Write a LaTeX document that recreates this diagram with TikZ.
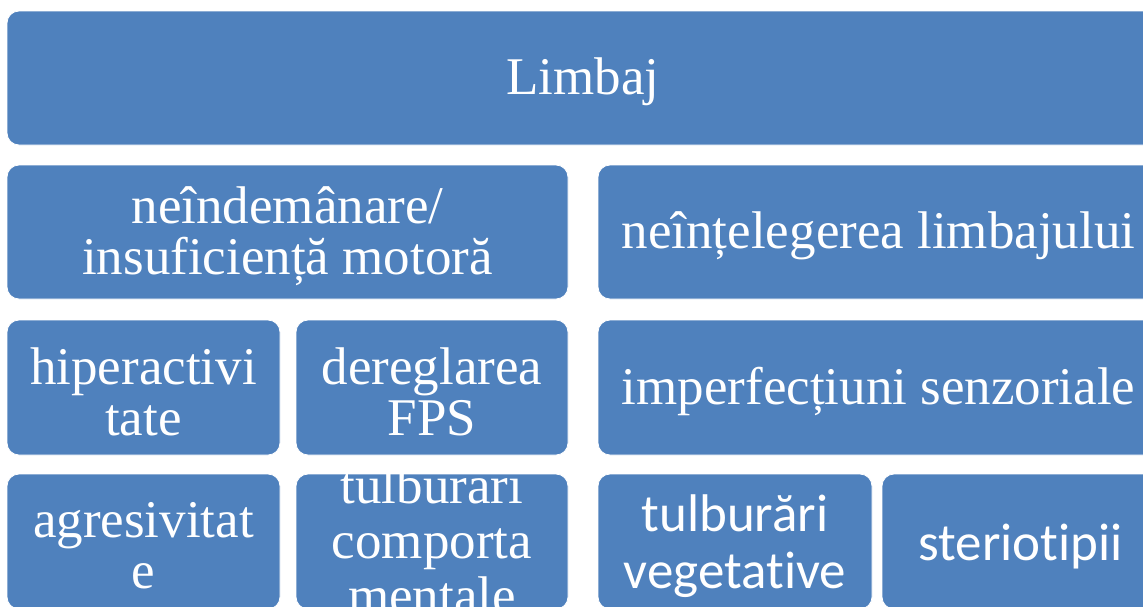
\documentclass[tikz,border=0pt]{standalone}
\usepackage{fontspec}
\setmainfont{Liberation Serif}
\newfontfamily\calfont[Ligatures={NoCommon,NoRare,NoContextual}]{Carlito}
\usepackage{xcolor}
\definecolor{boxblue}{HTML}{4F81BD}

\begin{document}
\begin{tikzpicture}[x=1pt,y=-1pt,
		box/.style={fill=boxblue, draw=white, line width=0.8pt, rounded corners=12pt, inner sep=0pt},
		lbl/.style={text=white, align=center, inner sep=0pt, yshift=-4pt, font=\fontsize{53}{51}\selectfont},
		slbl/.style={lbl, yshift=-1pt, font=\calfont\fontsize{53}{57}\selectfont}]
			\clip (0,0) rectangle (1143,606);
			\fill[white] (0,0) rectangle (1143,606);
			\node[box, minimum width=1152, minimum height=134, label={[lbl]center:Limbaj}] (limbaj) at (583,78) {};
			\node[box, minimum width=561, minimum height=134, label={[lbl]center:{neîndemânare/\\insuficiență motoră}}] (neindem) at (287.5,232) {};
			\node[box, minimum width=561, minimum height=134, label={[lbl]center:{neînțelegerea limbajului}}] (neintel) at (878.5,232) {};
			\node[box, minimum width=273, minimum height=135, label={[lbl]center:{hiperactivi\\tate}}] (hiper) at (143.5,387.5) {};
			\node[box, minimum width=272, minimum height=135, label={[lbl]center:{dereglarea\\FPS}}] (fps) at (432,387.5) {};
			\node[box, minimum width=561, minimum height=135, label={[lbl]center:{imperfecțiuni senzoriale}}] (senzor) at (878.5,387.5) {};
			\node[box, minimum width=273, minimum height=135, label={[lbl]center:{agresivitat\\e}}] (agres) at (143.5,541.5) {};
			\node[box, minimum width=272, minimum height=135, label={[lbl, yshift=5pt, font=\fontsize{53}{55}\selectfont]center:{tulburari\\comporta\\mentale}}] (comport) at (432,541.5) {};
			\node[box, minimum width=274, minimum height=135, label={[slbl]center:{tulburări\\vegetative}}] (veget) at (735,541.5) {};
			\node[box, minimum width=277, minimum height=135, label={[slbl]center:steriotipii}] (sterio) at (1020.5,541.5) {};
		\end{tikzpicture}
\end{document}
